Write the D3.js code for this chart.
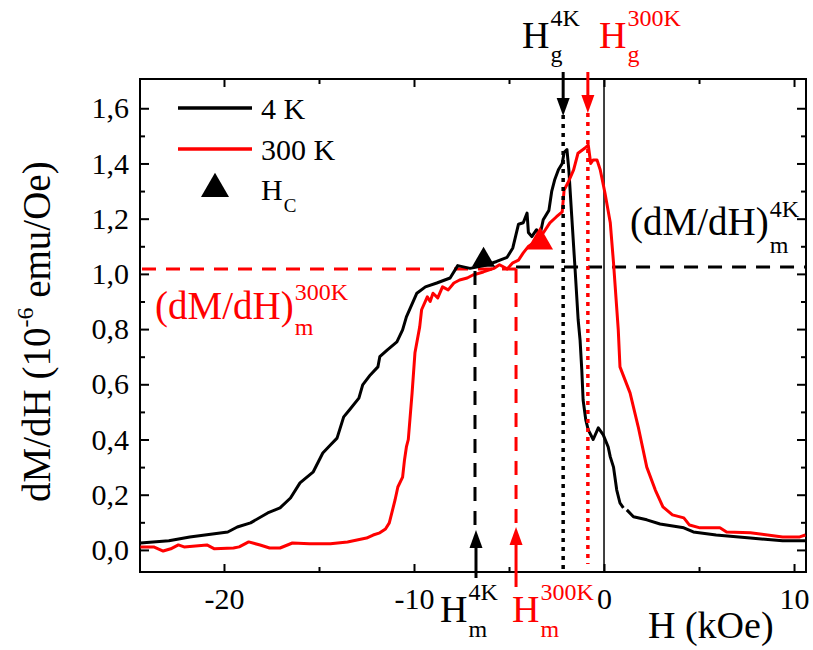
<!DOCTYPE html>
<html><head><meta charset="utf-8">
<script src="https://cdn.jsdelivr.net/npm/d3@7"></script>
<style>
html,body{margin:0;padding:0;background:#fff;}
svg, svg text, svg tspan{font-family:"Liberation Serif","Times New Roman",Times,serif !important;}
</style></head>
<body><svg id="chart" width="813" height="650"></svg>
<script>
// ---- data ----
const H4K  = [-24.4,-22.9,-21.8,-20.6,-19.8,-19.3,-18.6,-17.7,-17.05,-16.5,-16.0,-15.3,-14.8,-14.4,-14.05,-13.7,-13.4,-12.9,-12.7,-12.3,-11.9,-11.8,-11.4,-10.9,-10.6,-10.4,-9.85,-9.4,-8.8,-8.1,-7.7,-7.05,-6.3,-5.65,-5.1,-4.8,-4.5,-4.25,-4.05,-3.98,-3.8,-3.55,-3.37,-3.2,-2.9,-2.75,-2.6,-2.4,-2.2,-2.1,-1.95,-1.85,-1.7,-1.53,-1.36,-1.26,-1.17,-1.1,-0.96,-0.83,-0.57,-0.3,-0.04,0.22,0.33,0.5,0.67,0.84,1.02,1.1,1.2,1.55,2.25,2.95,4.2,4.7,5.9,7.7,9.4,10.6];
const dM4K = [0.025,0.033,0.047,0.058,0.065,0.083,0.098,0.134,0.152,0.188,0.243,0.283,0.351,0.38,0.405,0.482,0.507,0.55,0.598,0.634,0.663,0.70,0.725,0.754,0.797,0.844,0.93,0.953,0.967,0.985,1.03,1.02,1.03,1.045,1.06,1.094,1.18,1.185,1.22,1.15,1.135,1.16,1.14,1.196,1.23,1.30,1.34,1.377,1.40,1.44,1.45,1.376,1.21,1.025,0.833,0.76,0.652,0.543,0.471,0.435,0.40,0.442,0.417,0.373,0.337,0.30,0.217,0.17,0.152,null,0.145,0.12,0.109,0.094,0.08,0.065,0.054,0.043,0.033,0.033];
const H300K  = [-24.4,-23.7,-23.2,-22.8,-22.4,-22.1,-20.9,-20.5,-19.5,-19.2,-18.7,-18.1,-17.6,-17.05,-16.4,-15.5,-14.4,-13.5,-13.0,-12.5,-12.15,-11.8,-11.5,-11.3,-11.0,-10.85,-10.6,-10.5,-10.4,-10.3,-10.1,-9.95,-9.7,-9.6,-9.3,-9.15,-9.0,-8.75,-8.5,-8.2,-7.9,-7.6,-7.2,-6.9,-6.35,-5.8,-5.5,-5.1,-4.8,-4.5,-4.25,-4.0,-3.5,-3.2,-2.85,-2.5,-2.2,-2.1,-1.9,-1.6,-1.37,-1.0,-0.83,-0.7,-0.57,-0.37,-0.2,0.05,0.33,0.5,0.75,0.84,1.37,1.8,2.25,2.7,3.1,3.6,4.2,4.5,5.05,6.1,6.45,7.7,9.4,10.3,10.6];
const dM300K = [0.011,0.011,-0.004,0.004,0.018,0.011,0.018,0.004,0.007,0.011,0.029,0.018,0.007,0.007,0.025,0.022,0.022,0.029,0.036,0.043,0.054,0.062,0.076,0.098,0.18,0.228,0.264,0.326,0.373,0.40,0.569,0.714,0.808,0.87,0.917,0.90,0.93,0.913,0.953,0.942,0.967,0.978,0.985,0.996,1.007,1.02,1.033,1.018,1.04,1.05,1.076,1.098,1.123,1.148,1.185,1.207,1.225,1.304,1.33,1.377,1.437,1.456,1.467,1.40,1.413,1.413,1.377,1.293,1.185,1.04,0.797,0.663,0.569,0.446,0.30,0.217,0.156,0.127,0.116,0.09,0.08,0.08,0.065,0.062,0.047,0.047,0.054];
const HcH  = [-6.34, -3.37];
const HcDM = [1.05, 1.116];
const seriesNames = ["4 K", "300 K"];
const xTicksMajor = [-20,-10,0,10];
const xTicksMinor = [-15,-5,5];
const yTicksMajor = [0,0.2,0.4,0.6,0.8,1.0,1.2,1.4,1.6];
const yTicksMinor = [0.1,0.3,0.5,0.7,0.9,1.1,1.3,1.5];
const Hg4K = -2.15, Hg300K = -0.85, Hm4K = -6.79, Hm300K = -4.63;
const dMm4K = 1.025, dMm300K = 1.018;

// ---- layout ----
const RED = "#ff0000";
const FONT = '"Liberation Serif","Times New Roman",Times,serif';
const L = 140, R = 806, T = 79, B = 572;
const svg = d3.select("#chart").attr("font-family", FONT);
const x = d3.scaleLinear().domain([-24.42, 10.63]).range([L, R]);
const y = d3.scaleLinear().domain([-0.08, 1.706]).range([B, T]);
const fmt = d => d3.format(".1f")(d).replace(".", ",");

function styleAxis(g){
  g.attr("font-family", FONT);
  g.select(".domain").remove();
  g.selectAll(".tick line").attr("stroke","#000").attr("stroke-width",2);
  g.selectAll("text").attr("fill","#000").attr("font-size",30).attr("font-family", FONT);
}
// bottom
svg.append("g").attr("transform",`translate(0,${B})`)
  .call(d3.axisBottom(x).tickValues(xTicksMajor).tickSize(-8).tickPadding(16).tickFormat(d=>String(d))).call(styleAxis);
svg.append("g").attr("transform",`translate(0,${B})`)
  .call(d3.axisBottom(x).tickValues(xTicksMinor).tickSize(-5).tickFormat("")).call(styleAxis);
// top
svg.append("g").attr("transform",`translate(0,${T})`)
  .call(d3.axisTop(x).tickValues(xTicksMajor).tickSize(-8).tickFormat("")).call(styleAxis);
svg.append("g").attr("transform",`translate(0,${T})`)
  .call(d3.axisTop(x).tickValues(xTicksMinor).tickSize(-5).tickFormat("")).call(styleAxis);
// left
svg.append("g").attr("transform",`translate(${L},0)`)
  .call(d3.axisLeft(y).tickValues(yTicksMajor).tickSize(-9).tickPadding(11).tickFormat(fmt)).call(styleAxis);
svg.append("g").attr("transform",`translate(${L},0)`)
  .call(d3.axisLeft(y).tickValues(yTicksMinor).tickSize(-5).tickFormat("")).call(styleAxis);
// right
svg.append("g").attr("transform",`translate(${R},0)`)
  .call(d3.axisRight(y).tickValues(yTicksMajor).tickSize(-9).tickFormat("")).call(styleAxis);
svg.append("g").attr("transform",`translate(${R},0)`)
  .call(d3.axisRight(y).tickValues(yTicksMinor).tickSize(-5).tickFormat("")).call(styleAxis);

// frame
svg.append("rect").attr("x",L).attr("y",T).attr("width",R-L).attr("height",B-T)
  .attr("fill","none").attr("stroke","#000").attr("stroke-width",2);

const plot = svg.append("g");
// zero line
plot.append("line").attr("x1",x(0)).attr("x2",x(0)).attr("y1",T).attr("y2",B)
  .attr("stroke","#000").attr("stroke-width",1.5);

// horizontal dashed lines
plot.append("line").attr("x1",x(Hm300K)).attr("x2",R).attr("y1",y(dMm4K)).attr("y2",y(dMm4K))
  .attr("stroke","#000").attr("stroke-width",3).attr("stroke-dasharray","14,10");
plot.append("line").attr("x1",L+2).attr("x2",x(Hm300K)).attr("y1",y(dMm300K)).attr("y2",y(dMm300K))
  .attr("stroke",RED).attr("stroke-width",3).attr("stroke-dasharray","14,10");

// curves
const line = d3.line().defined(d=>d[1]!==null).x(d=>x(d[0])).y(d=>y(d[1]));
plot.append("path").datum(H4K.map((h,i)=>[h,dM4K[i]])).attr("d",line)
  .attr("fill","none").attr("stroke","#000").attr("stroke-width",3).attr("stroke-linejoin","round");
plot.append("path").datum(H300K.map((h,i)=>[h,dM300K[i]])).attr("d",line)
  .attr("fill","none").attr("stroke",RED).attr("stroke-width",3).attr("stroke-linejoin","round");

// vertical dashed lines (Hm)
plot.append("line").attr("x1",x(Hm4K)).attr("x2",x(Hm4K)).attr("y1",y(dMm4K)+4).attr("y2",y(0.07))
  .attr("stroke","#000").attr("stroke-width",3).attr("stroke-dasharray","14,10");
plot.append("line").attr("x1",x(Hm300K)).attr("x2",x(Hm300K)).attr("y1",y(dMm300K)).attr("y2",y(0.08))
  .attr("stroke",RED).attr("stroke-width",3).attr("stroke-dasharray","14,10");
// vertical dotted lines (Hg)
plot.append("line").attr("x1",x(Hg4K)).attr("x2",x(Hg4K)).attr("y1",T+36).attr("y2",B-3)
  .attr("stroke","#000").attr("stroke-width",3.5).attr("stroke-dasharray","4,5");
plot.append("line").attr("x1",x(Hg300K)).attr("x2",x(Hg300K)).attr("y1",T+34).attr("y2",B-8)
  .attr("stroke",RED).attr("stroke-width",3.5).attr("stroke-dasharray","4,5");

// arrows
function arrow(xp, y0, y1, color){
  const dir = Math.sign(y1-y0), hl = 18, hw = 6.5;
  svg.append("line").attr("x1",xp).attr("x2",xp).attr("y1",y0).attr("y2",y1-dir*hl+dir*2)
    .attr("stroke",color).attr("stroke-width",3);
  svg.append("path").attr("d",`M${xp},${y1} L${xp-hw},${y1-dir*hl} L${xp+hw},${y1-dir*hl} Z`).attr("fill",color);
}
arrow(x(Hg4K), 72, 116, "#000");
arrow(x(Hg300K), 72, 113, RED);
arrow(x(Hm4K)+1, 578, 530, "#000");
arrow(x(Hm300K), 587, 527, RED);

// Hc triangles
const tri = d3.symbol().type(d3.symbolTriangle);
plot.append("path").attr("d",tri.size(232)()).attr("transform",`translate(${x(HcH[0])},${y(HcDM[0])})`).attr("fill","#000");
plot.append("path").attr("d",tri.size(295)()).attr("transform",`translate(${x(HcH[1])},${y(HcDM[1])})`).attr("fill",RED);

// labels with sup/sub
function label(x0, base, main, sup, sub, color, size, small, supUp, subDown){
  const g = svg.append("g").attr("fill",color).attr("font-family",FONT);
  const t = g.append("text").attr("x",x0).attr("y",base).attr("font-size",size).text(main);
  const w = t.node().getComputedTextLength();
  if (sup) g.append("text").attr("x",x0+w+1).attr("y",base-supUp).attr("font-size",small).text(sup);
  if (sub) g.append("text").attr("x",x0+w+1).attr("y",base+subDown).attr("font-size",small).text(sub);
}
label(522, 48, "H", "4K", "g", "#000", 38, 24, 22, 14);
label(599, 48, "H", "300K", "g", RED, 38, 24, 22, 14);
label(440, 622, "H", "4K", "m", "#000", 38, 24, 22, 15);
label(512, 622, "H", "300K", "m", RED, 38, 24, 22, 15);
label(630, 235, "(dM/dH)", "4K", "m", "#000", 39, 24, 18, 18);
label(155, 319, "(dM/dH)", "300K", "m", RED, 39, 24, 19, 16);

// legend
svg.append("line").attr("x1",178).attr("x2",252).attr("y1",108).attr("y2",108).attr("stroke","#000").attr("stroke-width",3.5);
svg.append("line").attr("x1",178).attr("x2",252).attr("y1",149).attr("y2",149).attr("stroke",RED).attr("stroke-width",3.5);
svg.append("path").attr("d",tri.size(340)()).attr("transform","translate(215,189)").attr("fill","#000");
svg.append("text").attr("x",261).attr("y",119).attr("font-size",30).text(seriesNames[0]);
svg.append("text").attr("x",261).attr("y",160).attr("font-size",30).text(seriesNames[1]);
label(261, 200, "H", null, "C", "#000", 30, 19, 0, 12);

// axis titles
svg.append("text").attr("x",648).attr("y",638).attr("font-size",38).text("H (kOe)");
const yt = svg.append("text").attr("transform","translate(50,502) rotate(-90)").attr("font-size",39);
yt.append("tspan").text("dM/dH (10");
yt.append("tspan").attr("font-size",24).attr("dy",-17).text("-6");
yt.append("tspan").attr("dy",17).text(" emu/Oe)");
</script></body></html>
